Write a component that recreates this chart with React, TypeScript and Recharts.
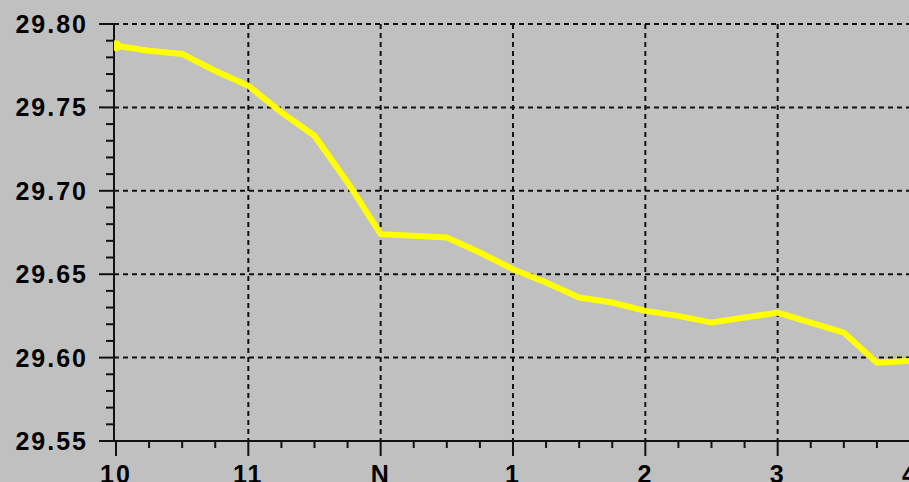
import { LineChart, Line, XAxis, YAxis, CartesianGrid } from "recharts";

// barometric pressure, read every quarter hour
const hours = [
  10, 10.25, 10.5, 10.75, 11, 11.25, 11.5, 11.75, 12, 12.25, 12.5, 12.75, 13,
  13.25, 13.5, 13.75, 14, 14.25, 14.5, 14.75, 15, 15.25, 15.5, 15.75, 16,
];
const pressure = [
  29.787, 29.784, 29.782, 29.772, 29.763, 29.747, 29.733, 29.705, 29.674,
  29.673, 29.672, 29.663, 29.653, 29.645, 29.636, 29.633, 29.628, 29.625,
  29.621, 29.624, 29.627, 29.621, 29.615, 29.597, 29.598,
];

const xMajor = [10, 11, 12, 13, 14, 15, 16];
const xLabels = ["10", "11", "N", "1", "2", "3", "4"];
const xTicks = [
  10, 10.25, 10.5, 10.75, 11, 11.25, 11.5, 11.75, 12, 12.25, 12.5, 12.75, 13,
  13.25, 13.5, 13.75, 14, 14.25, 14.5, 14.75, 15, 15.25, 15.5, 15.75, 16,
];
const yMajor = [29.55, 29.6, 29.65, 29.7, 29.75, 29.8];
const yTicks = [
  29.55, 29.56, 29.57, 29.58, 29.59, 29.6, 29.61, 29.62, 29.63, 29.64, 29.65,
  29.66, 29.67, 29.68, 29.69, 29.7, 29.71, 29.72, 29.73, 29.74, 29.75, 29.76,
  29.77, 29.78, 29.79, 29.8,
];

const data = hours.map((t, i) => ({ t, p: pressure[i] }));

const font = {
  fontFamily: "'Liberation Sans', Arial, sans-serif",
  fontWeight: 700,
  fontSize: 25,
  letterSpacing: 2,
};

function XTick(props: any) {
  const { x, y, payload } = props;
  const idx = xMajor.indexOf(payload.value);
  const major = idx >= 0;
  return (
    <g>
      <line x1={x} y1={y} x2={x} y2={y + (major ? 15 : 7)} stroke="#111" strokeWidth={2} />
      {major && (
        <text x={x} y={y + 24} dy="0.71em" textAnchor="middle" fill="#000" style={font}>
          {xLabels[idx]}
        </text>
      )}
    </g>
  );
}

function YTick(props: any) {
  const { x, y, payload } = props;
  const major = yMajor.some((v) => Math.abs(v - payload.value) < 1e-6);
  return (
    <g>
      <line x1={x - (major ? 15 : 8)} y1={y} x2={x} y2={y} stroke="#111" strokeWidth={2} />
      {major && (
        <text x={x - 26} y={y} dy="0.36em" textAnchor="end" fill="#000" style={font}>
          {payload.value.toFixed(2)}
        </text>
      )}
    </g>
  );
}

function StartDot(props: any) {
  const { cx, cy, index } = props;
  if (index !== 0) return <g key={"d" + index} />;
  return <circle key="d0" cx={cx} cy={cy} r={5.5} fill="#ffff00" />;
}

export default function App() {
  return (
    <div
      style={{
        position: "fixed",
        left: 0,
        top: 0,
        width: 909,
        height: 482,
        overflow: "hidden",
        background: "#c0c0c0",
      }}
    >
      <LineChart
        width={920}
        height={482}
        data={data}
        margin={{ top: 24, right: 10, bottom: 0, left: 0 }}
      >
        <CartesianGrid
          stroke="#111"
          strokeWidth={2}
          strokeDasharray="5 4"
          horizontalValues={[29.6, 29.65, 29.7, 29.75, 29.8]}
          verticalValues={[11, 12, 13, 14, 15, 16]}
        />
        <XAxis
          dataKey="t"
          type="number"
          domain={[9.985, 16]}
          allowDataOverflow
          ticks={xTicks}
          interval={0}
          height={41}
          tickLine={false}
          tickSize={0}
          tickMargin={0}
          axisLine={{ stroke: "#111", strokeWidth: 2 }}
          tick={<XTick />}
        />
        <YAxis
          type="number"
          domain={[29.55, 29.8]}
          allowDataOverflow
          ticks={yTicks}
          interval={0}
          width={114}
          tickLine={false}
          tickSize={0}
          tickMargin={0}
          axisLine={{ stroke: "#111", strokeWidth: 2 }}
          tick={<YTick />}
        />
        <Line
          type="linear"
          dataKey="p"
          stroke="#ffff00"
          strokeWidth={6}
          dot={StartDot}
          activeDot={false}
          isAnimationActive={false}
        />
      </LineChart>
    </div>
  );
}
